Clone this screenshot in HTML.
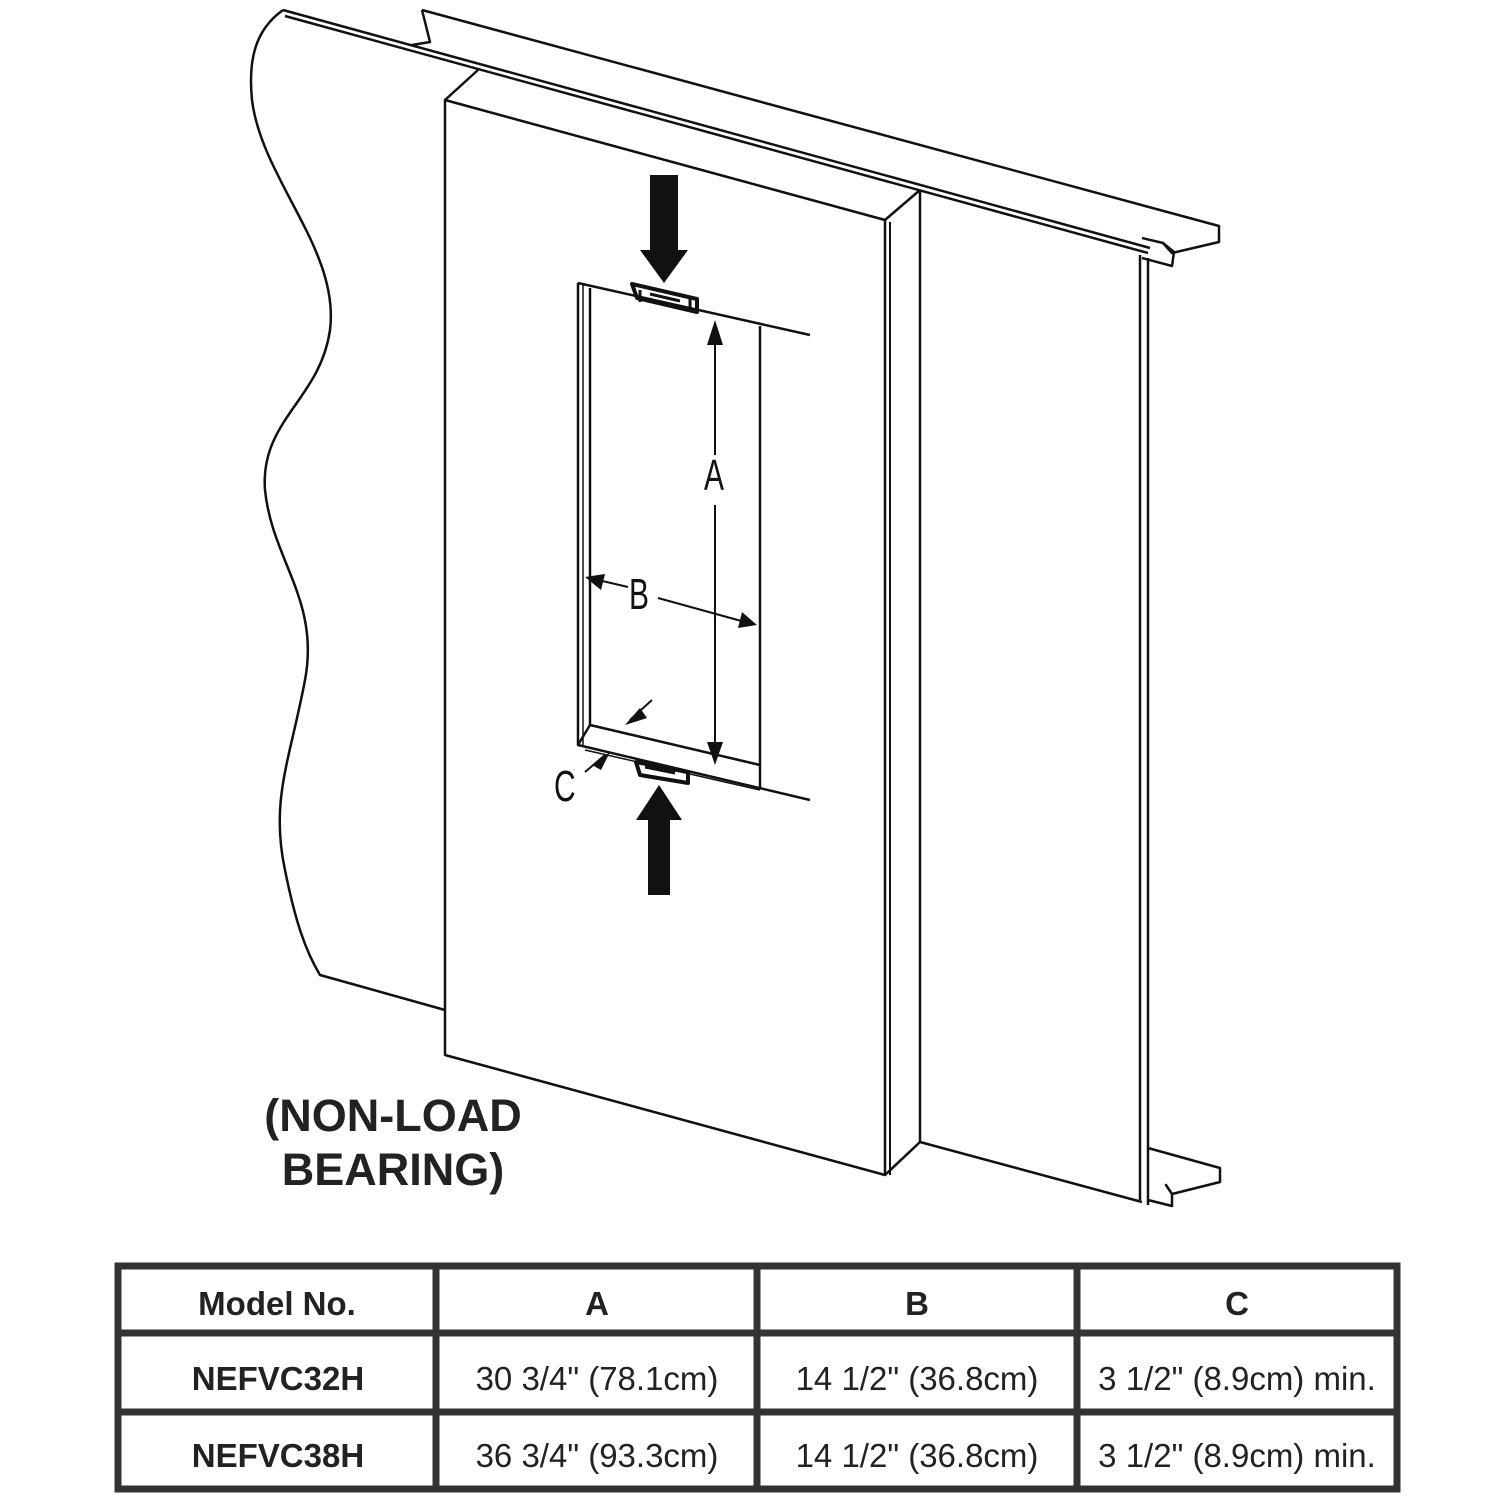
<!DOCTYPE html>
<html><head><meta charset="utf-8"><style>
html,body{margin:0;padding:0;background:#fff;width:1500px;height:1500px;overflow:hidden}
svg{display:block}
</style></head><body>
<svg width="1500" height="1500" viewBox="0 0 1500 1500" xmlns="http://www.w3.org/2000/svg">
<g fill="none" stroke="#111" stroke-width="2.5" stroke-linejoin="round">
<path d="M283,10 C255,30 248,60 252,100 C262,180 340,250 330,330 C320,400 260,420 265,490 C272,560 320,600 305,680 C290,760 270,800 285,870 C295,920 305,950 320,975 L445,1010"/>
<path d="M283,10 L1150,248"/>
<path d="M285,16 L1148,253"/>
<path d="M422,10 L1219,226 L1219,242 L1172,253 L1163,243 L1174,252 L1172,266 L1142,258"/>
<path d="M422,10 L430,42 L412,45"/>
<path d="M1163,243 L1142,238"/>
<path d="M1140,255 L1140,1200"/>
<path d="M1148,258 L1148,1205"/>
<path d="M920,190 L920,1142 L1142,1202"/>
<path d="M1148,1148 L1220,1168 L1220,1182 L1172,1194 L1166,1185 L1172,1194 L1172,1206 L1148,1200"/>
<path d="M445,100 L885,220 L885,1175 L445,1055 Z"/>
<path d="M445,100 L478,70"/>
<path d="M885,220 L920,190"/>
<path d="M885,1175 L920,1142"/>
<path d="M890,222 L890,1175" stroke-width="2"/>
<path d="M578,283 L578,745 L810,800"/>
<path d="M578,283 L810,335"/>
<path d="M583,285 L583,745" stroke-width="1.5"/>
<path d="M590,288 L590,725 L760,765 L760,326"/>
<path d="M578,745 L590,725"/>
<path d="M585,750 L760,790" stroke-width="1.5"/>
<path d="M760,765 L760,788"/>
</g>
<!-- brackets -->
<g fill="none" stroke="#111" stroke-width="4" stroke-linejoin="round">
<path d="M632,284 L697,299 L697,312 L637,298 Z"/>
<path d="M640,290 L640,302 M690,298 L690,312 M650,294 L680,301" stroke-width="3"/>
<path d="M636,762 L688,772 L688,783 L640,775 Z"/>
<path d="M645,767 L675,773" stroke-width="3"/>
</g>
<g fill="none" stroke="#111" stroke-width="2">
<path d="M715,330 L715,455 M715,505 L715,760"/>
<path d="M598,580 L628,587 M658,598 L745,622"/>
<path d="M652,700 L630,720 M585,772 L605,755"/>
</g>
<g fill="#111">
<polygon points="715,320 707,345 723,345"/>
<polygon points="715,765 707,742 723,742"/>
<polygon points="585,577 605,574 601,590"/>
<polygon points="757,625 738,628 742,612"/>
<polygon points="625,725 640,708 647,718"/>
<polygon points="610,752 592,765 601,770"/>
<polygon points="650,175 678,175 678,250 688,250 664,283 640,250 650,250"/>
<polygon points="648,895 670,895 670,820 682,820 659,785 636,820 648,820"/>
</g>
<g font-family="'Liberation Sans',sans-serif" font-size="44" fill="#111">
<text transform="translate(704,490) scale(0.68,1)">A</text>
<text transform="translate(629,609) scale(0.68,1)">B</text>
<text transform="translate(554,801) scale(0.68,1)">C</text>
</g>
<g font-family="'Liberation Sans',sans-serif" font-weight="bold" font-size="45" fill="#222" text-anchor="middle">
<text x="393" y="1131">(NON-LOAD</text>
<text x="393" y="1185">BEARING)</text>
</g>
<g fill="none" stroke="#333" stroke-width="7">
<rect x="118" y="1266" width="1279" height="223"/>
<path d="M436,1266 L436,1489 M757,1266 L757,1489 M1077,1266 L1077,1489 M118,1333 L1397,1333 M118,1412 L1397,1412"/>
</g>
<g font-family="'Liberation Sans',sans-serif" font-size="33" fill="#222" text-anchor="middle">
<text x="277" y="1315" font-weight="bold">Model No.</text>
<text x="597" y="1315" font-weight="bold">A</text>
<text x="917" y="1315" font-weight="bold">B</text>
<text x="1237" y="1315" font-weight="bold">C</text>
<text x="278" y="1390" font-weight="bold">NEFVC32H</text>
<text x="597" y="1390">30 3/4" (78.1cm)</text>
<text x="917" y="1390">14 1/2" (36.8cm)</text>
<text x="1237" y="1390">3 1/2" (8.9cm) min.</text>
<text x="278" y="1467" font-weight="bold">NEFVC38H</text>
<text x="597" y="1467">36 3/4" (93.3cm)</text>
<text x="917" y="1467">14 1/2" (36.8cm)</text>
<text x="1237" y="1467">3 1/2" (8.9cm) min.</text>
</g>
</svg>
</body></html>
